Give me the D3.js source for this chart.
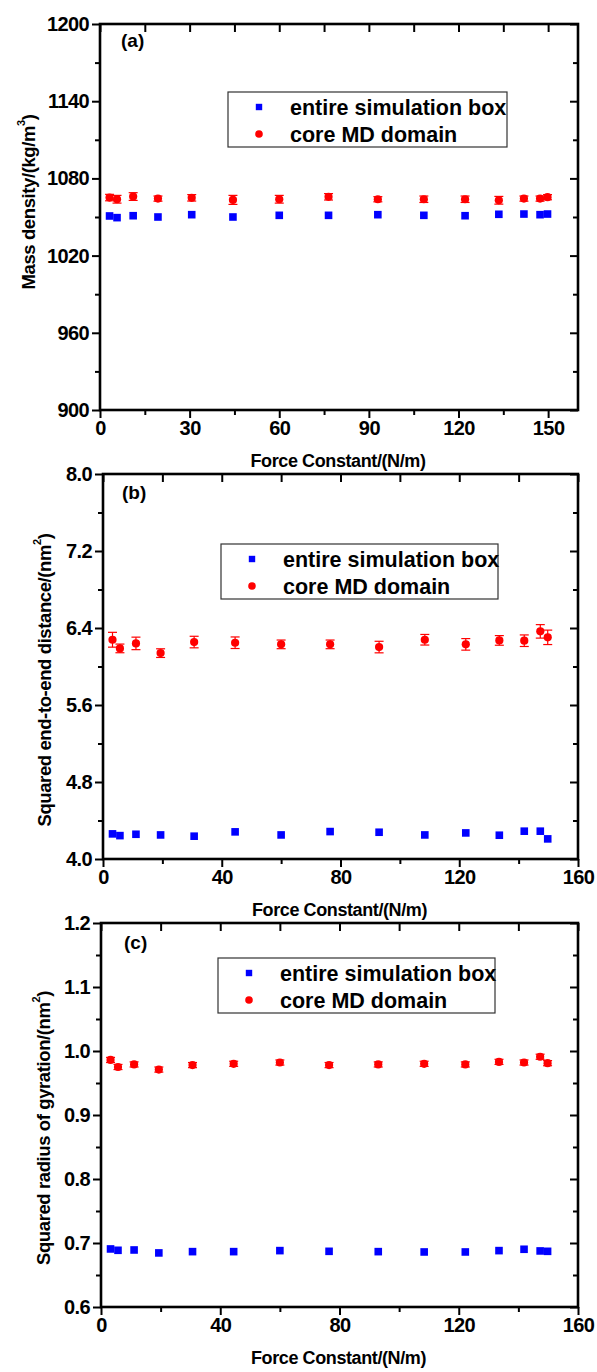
<!DOCTYPE html>
<html>
<head>
<meta charset="utf-8">
<script src="https://cdn.jsdelivr.net/npm/d3@7"></script>
<style>
  html, body { margin: 0; padding: 0; background: #fff; }
  svg { display: block; }
  text { font-family: "Liberation Sans", Arial, sans-serif; font-weight: bold; fill: #000; }
</style>
</head>
<body>
<svg id="chart" width="597" height="1372"></svg>
<script>
// Force constant of the restraining spring (N/m), shared by all three panels
const forceConstant = [3.2, 5.7, 11.1, 19.4, 30.7, 44.5, 60.0, 76.5, 93.0, 108.4, 122.2, 133.5, 141.9, 147.3, 149.8];

// (a) mass density, kg/m^3
const densityBox     = [1050.8, 1049.5, 1051.0, 1050.0, 1051.8, 1050.0, 1051.3, 1051.3, 1051.8, 1051.3, 1051.0, 1052.1, 1052.3, 1051.8, 1052.3];
const densityCore    = [1065.1, 1063.8, 1065.9, 1064.3, 1064.9, 1063.3, 1063.8, 1065.7, 1063.8, 1063.8, 1063.8, 1063.0, 1064.3, 1064.3, 1065.4];
const densityCoreErr = [2.5, 3.0, 3.0, 2.0, 2.5, 3.5, 3.0, 2.5, 2.0, 2.5, 2.5, 3.0, 2.0, 2.0, 2.0];

// (b) squared end-to-end distance, nm^2
const endToEndBox     = [4.261, 4.243, 4.257, 4.250, 4.237, 4.282, 4.250, 4.285, 4.278, 4.250, 4.271, 4.247, 4.289, 4.289, 4.209];
const endToEndCore    = [6.278, 6.188, 6.240, 6.139, 6.254, 6.247, 6.230, 6.230, 6.202, 6.278, 6.230, 6.271, 6.268, 6.365, 6.303];
const endToEndCoreErr = [0.077, 0.045, 0.065, 0.045, 0.060, 0.060, 0.045, 0.045, 0.060, 0.055, 0.060, 0.050, 0.060, 0.070, 0.075];

// (c) squared radius of gyration, nm^2
const gyrationBox     = [0.6907, 0.6886, 0.6891, 0.6845, 0.6865, 0.6865, 0.6881, 0.6870, 0.6865, 0.6860, 0.6860, 0.6881, 0.6902, 0.6876, 0.6870];
const gyrationCore    = [0.986, 0.975, 0.979, 0.971, 0.978, 0.980, 0.982, 0.978, 0.979, 0.980, 0.979, 0.983, 0.982, 0.991, 0.981];
const gyrationCoreErr = [0.004, 0.004, 0.004, 0.004, 0.004, 0.004, 0.004, 0.004, 0.004, 0.004, 0.004, 0.004, 0.004, 0.004, 0.004];

// tick values
const xTicksA = [0, 30, 60, 90, 120, 150];
const xMinorA = [15, 45, 75, 105, 135];
const xTicksBC = [0, 40, 80, 120, 160];
const xMinorBC = [20, 60, 100, 140];
const yTicksA = [900, 960, 1020, 1080, 1140, 1200];
const yMinorA = [930, 990, 1050, 1110, 1170];
const yTicksB = [4.0, 4.8, 5.6, 6.4, 7.2, 8.0];
const yMinorB = [4.4, 5.2, 6.0, 6.8, 7.6];
const yTicksC = [0.6, 0.7, 0.8, 0.9, 1.0, 1.1, 1.2];
const yMinorC = [0.65, 0.75, 0.85, 0.95, 1.05, 1.15];

const seriesNames = ["entire simulation box", "core MD domain"];
const xTitle = "Force Constant/(N/m)";

const BLUE = "#0000ff", RED = "#ff0000";

const panels = [
  {
    tag: "(a)", left: 100, right: 578, top: 24, bottom: 410,
    xDomain: [0, 160], xTicks: xTicksA, xMinor: xMinorA, xFmt: d3.format("d"),
    yDomain: [900, 1200], yTicks: yTicksA, yMinor: yMinorA, yFmt: d3.format("d"),
    box: densityBox, core: densityCore, err: densityCoreErr,
    yTitle: ["Mass density/(kg/m", "3", ")"], yTitleX: 28, yTitleY: 202,
    legend: { x: 228, y: 92, w: 279, h: 55 }, tagPos: [121, 47]
  },
  {
    tag: "(b)", left: 103, right: 578, top: 474, bottom: 859,
    xDomain: [0, 160], xTicks: xTicksBC, xMinor: xMinorBC, xFmt: d3.format("d"),
    yDomain: [4.0, 8.0], yTicks: yTicksB, yMinor: yMinorB, yFmt: d3.format(".1f"),
    box: endToEndBox, core: endToEndCore, err: endToEndCoreErr,
    yTitle: ["Squared end-to-end distance/(nm", "2", ")"], yTitleX: 44, yTitleY: 680,
    legend: { x: 221, y: 544, w: 277, h: 55 }, tagPos: [122, 499]
  },
  {
    tag: "(c)", left: 101, right: 578, top: 923, bottom: 1307,
    xDomain: [0, 160], xTicks: xTicksBC, xMinor: xMinorBC, xFmt: d3.format("d"),
    yDomain: [0.6, 1.2], yTicks: yTicksC, yMinor: yMinorC, yFmt: d3.format(".1f"),
    box: gyrationBox, core: gyrationCore, err: gyrationCoreErr,
    yTitle: ["Squared radius of gyration/(nm", "2", ")"], yTitleX: 43, yTitleY: 1128,
    legend: { x: 218, y: 958, w: 277, h: 55 }, tagPos: [124, 949]
  }
];

const svg = d3.select("#chart");

panels.forEach(p => {
  const g = svg.append("g");
  const x = d3.scaleLinear().domain(p.xDomain).range([p.left, p.right]);
  const y = d3.scaleLinear().domain(p.yDomain).range([p.bottom, p.top]);

  const styleAxis = sel => {
    sel.select(".domain").remove();
    sel.selectAll(".tick line").attr("stroke", "#000").attr("stroke-width", 2);
    sel.selectAll(".tick text")
      .style("font-size", "20px").style("letter-spacing", "-0.6px").attr("fill", "#000");
  };

  // bottom axis (ticks outward) with labels
  g.append("g").attr("transform", `translate(0,${p.bottom})`)
    .call(d3.axisBottom(x).tickValues(p.xTicks).tickFormat(p.xFmt).tickSize(8).tickPadding(3))
    .call(styleAxis);
  g.append("g").attr("transform", `translate(0,${p.bottom})`)
    .call(d3.axisBottom(x).tickValues(p.xMinor).tickFormat("").tickSize(5))
    .call(styleAxis);
  // top axis, ticks pointing into the plot
  g.append("g").attr("transform", `translate(0,${p.top})`)
    .call(d3.axisBottom(x).tickValues(p.xTicks.concat(p.xMinor)).tickFormat("").tickSize(8))
    .call(styleAxis);

  // left axis (ticks outward) with labels
  g.append("g").attr("transform", `translate(${p.left},0)`)
    .call(d3.axisLeft(y).tickValues(p.yTicks).tickFormat(p.yFmt).tickSize(8).tickPadding(3))
    .call(styleAxis);
  g.append("g").attr("transform", `translate(${p.left},0)`)
    .call(d3.axisLeft(y).tickValues(p.yMinor).tickFormat("").tickSize(5))
    .call(styleAxis);
  // right axis, ticks pointing into the plot
  g.append("g").attr("transform", `translate(${p.right},0)`)
    .call(d3.axisLeft(y).tickValues(p.yTicks).tickFormat("").tickSize(8))
    .call(styleAxis);
  g.append("g").attr("transform", `translate(${p.right},0)`)
    .call(d3.axisLeft(y).tickValues(p.yMinor).tickFormat("").tickSize(5))
    .call(styleAxis);

  // frame
  g.append("rect")
    .attr("x", p.left).attr("y", p.top)
    .attr("width", p.right - p.left).attr("height", p.bottom - p.top)
    .attr("fill", "none").attr("stroke", "#000").attr("stroke-width", 2.6);

  // axis titles
  g.append("text")
    .attr("x", (p.left + p.right) / 2 - 1).attr("y", p.bottom + 57)
    .attr("text-anchor", "middle")
    .style("font-size", "18px").style("letter-spacing", "-0.4px")
    .text(xTitle);

  const yt = g.append("text")
    .attr("transform", `translate(${p.yTitleX},${p.yTitleY}) rotate(-90)`)
    .attr("text-anchor", "middle").attr("dominant-baseline", "central")
    .style("font-size", "18.5px").style("letter-spacing", "-0.4px");
  yt.append("tspan").text(p.yTitle[0]);
  yt.append("tspan").attr("dy", -7).style("font-size", "11px").text(p.yTitle[1]);
  yt.append("tspan").attr("dy", 7).text(p.yTitle[2]);

  // panel tag
  g.append("text").attr("x", p.tagPos[0]).attr("y", p.tagPos[1])
    .style("font-size", "19px").text(p.tag);

  const pts = forceConstant.map((f, i) => ({ f, box: p.box[i], core: p.core[i], err: p.err[i] }));

  // error bars of the core-domain series
  const eb = g.append("g").attr("stroke", RED).attr("stroke-width", 1.2).attr("fill", "none");
  pts.forEach(d => {
    const cx = x(d.f), y1 = y(d.core + d.err), y2 = y(d.core - d.err);
    eb.append("line").attr("x1", cx).attr("x2", cx).attr("y1", y1).attr("y2", y2);
    eb.append("line").attr("x1", cx - 4.5).attr("x2", cx + 4.5).attr("y1", y1).attr("y2", y1);
    eb.append("line").attr("x1", cx - 4.5).attr("x2", cx + 4.5).attr("y1", y2).attr("y2", y2);
  });

  // entire simulation box: blue squares
  g.append("g").selectAll("rect").data(pts).join("rect")
    .attr("x", d => x(d.f) - 3.8).attr("y", d => y(d.box) - 3.8)
    .attr("width", 7.6).attr("height", 7.6).attr("fill", BLUE);

  // core MD domain: red circles
  g.append("g").selectAll("circle").data(pts).join("circle")
    .attr("cx", d => x(d.f)).attr("cy", d => y(d.core)).attr("r", 4.1).attr("fill", RED);

  // legend
  const L = p.legend;
  const lg = g.append("g");
  lg.append("rect").attr("x", L.x).attr("y", L.y).attr("width", L.w).attr("height", L.h)
    .attr("fill", "#fff").attr("stroke", "#333").attr("stroke-width", 1.2);
  const mx = L.x + 31;
  const row1 = L.y + 15, row2 = L.y + 42;
  lg.append("rect").attr("x", mx - 3.2).attr("y", row1 - 3.2).attr("width", 6.4).attr("height", 6.4).attr("fill", BLUE);
  lg.append("circle").attr("cx", mx).attr("cy", row2).attr("r", 3.8).attr("fill", RED);
  [row1, row2].forEach((ry, i) => {
    lg.append("text").attr("x", L.x + 62).attr("y", ry + 7.5)
      .style("font-size", "21.5px")
      .text(seriesNames[i]);
  });
});
</script>
</body>
</html>
